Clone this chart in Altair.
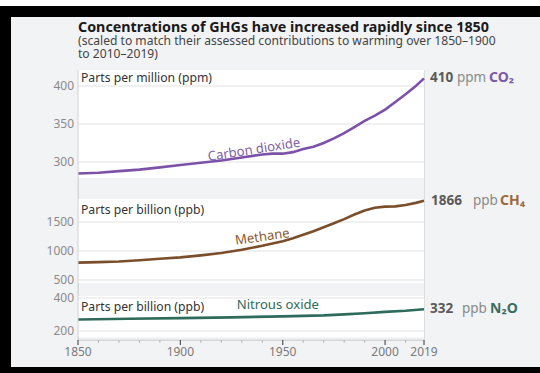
import altair as alt
import pandas as pd

# ---------------- data ----------------
co2_years = [1850, 1860, 1870, 1880, 1890, 1900, 1910, 1920, 1930, 1940, 1945, 1950,
             1955, 1960, 1965, 1970, 1975, 1980, 1985, 1990, 1995, 2000, 2005, 2010, 2015, 2019]
co2_ppm = [285, 286, 288, 290, 293, 296, 299, 302, 306, 310, 311, 311,
           313, 317, 320, 325, 331, 338, 346, 354, 361, 369, 379, 389, 400, 410]

ch4_years = [1850, 1860, 1870, 1880, 1890, 1900, 1910, 1920, 1930, 1940, 1945, 1950, 1955,
             1960, 1965, 1970, 1975, 1980, 1985, 1990, 1995, 2000, 2005, 2010, 2015, 2019]
ch4_ppb = [800, 808, 820, 840, 865, 890, 925, 965, 1020, 1090, 1130, 1170, 1220,
           1280, 1340, 1410, 1480, 1550, 1630, 1700, 1745, 1765, 1770, 1795, 1830, 1866]

n2o_years = [1850, 1875, 1900, 1925, 1950, 1960, 1970, 1980, 1990, 2000, 2010, 2019]
n2o_ppb = [270, 274, 278, 283, 289, 292, 295, 301, 308, 316, 323, 332]

x_tick_values = [1850, 1860, 1870, 1880, 1890, 1900, 1910, 1920, 1930, 1940, 1950,
                 1960, 1970, 1980, 1990, 2000, 2010, 2019]
x_label_years = [1850, 1900, 1950, 2000, 2019]

co2_ticks = [300, 350, 400]
ch4_ticks = [500, 1000, 1500]
n2o_ticks = [200, 400]

unit_labels = ["Parts per million (ppm)", "Parts per billion (ppb)", "Parts per billion (ppb)"]
series_names = ["Carbon dioxide", "Methane", "Nitrous oxide"]
end_numbers = ["410", "1866", "332"]
end_values = [410, 1866, 332]
end_units = ["ppm", "ppb", "ppb"]
gas_labels = ["CO₂", "CH₄", "N₂O"]

title_lines = ["Concentrations of GHGs have increased rapidly since 1850",
               "(scaled to match their assessed contributions to warming over 1850–1900",
               "to 2010–2019)"]

FONT = "Noto Sans"
BG = "#f2f3f5"

X0, X1 = x_tick_values[0], x_tick_values[-1]
xscale = alt.Scale(domain=[X0, X1], zero=False, nice=False)
xnone = alt.X("year:Q", scale=xscale, axis=None)


def panel(years, values, ticks, dom, rng, color, unit_lbl, unit_v, name, name_pos,
          name_angle, name_color, num, end_v, unit, gas, gas_color, dxs):
    ys = alt.Scale(domain=dom, range=rng, zero=False, nice=False)

    def Y(field):
        return alt.Y(field, scale=ys, axis=None)

    bg = alt.Chart(pd.DataFrame({"year": [X0], "year2": [X1], "v": [dom[0]], "v2": [dom[1]]})
                   ).mark_rect(color="white").encode(
        x=xnone, x2="year2", y=Y("v:Q"), y2="v2")
    tdf = pd.DataFrame({"v": ticks, "t": [str(t) for t in ticks]})
    grid = alt.Chart(tdf).mark_rule(color="#e2e2e2", strokeWidth=1).encode(y=Y("v:Q"))
    ylab = alt.Chart(tdf).mark_text(align="right", baseline="middle", fontSize=12, font=FONT,
                                    color="#8a8a8a").encode(
        x=alt.value(-4), y=Y("v:Q"), text="t:N")
    line = alt.Chart(pd.DataFrame({"year": years, "v": values})).mark_line(
        color=color, strokeWidth=2.6).encode(x=xnone, y=Y("v:Q"))
    ulab = alt.Chart(pd.DataFrame({"year": [X0], "v": [unit_v], "t": [unit_lbl]})).mark_text(
        align="left", baseline="middle", dx=3, fontSize=12.2, font=FONT, color="#333333"
    ).encode(x=xnone, y=Y("v:Q"), text="t:N")
    nlab = alt.Chart(pd.DataFrame({"year": [name_pos[0]], "v": [name_pos[1]], "t": [name]})).mark_text(
        align="center", baseline="middle", fontSize=13.1, font=FONT, color=name_color,
        angle=name_angle).encode(x=xnone, y=Y("v:Q"), text="t:N")
    endf = pd.DataFrame({"year": [X1], "v": [end_v], "n": [num], "u": [unit], "g": [gas]})
    e1 = alt.Chart(endf).mark_text(align="left", baseline="middle", dx=dxs[0], fontSize=13.5,
                                   fontWeight="bold", font=FONT, color="#5a5a5a").encode(
        x=xnone, y=Y("v:Q"), text="n:N")
    e2 = alt.Chart(endf).mark_text(align="left", baseline="middle", dx=dxs[1], fontSize=13.5,
                                   font=FONT, color="#8a8a8a").encode(
        x=xnone, y=Y("v:Q"), text="u:N")
    e3 = alt.Chart(endf).mark_text(align="left", baseline="middle", dx=dxs[2], fontSize=14,
                                   fontWeight="bold", font=FONT, color=gas_color).encode(
        x=xnone, y=Y("v:Q"), text="g:N")
    return alt.layer(bg, grid, ylab, line, ulab, nlab, e1, e2, e3)


p_co2 = panel(co2_years, co2_ppm, co2_ticks, [279, 421], [108, 0], "#7b52a8",
              unit_labels[0], 410.5, series_names[0], (1936, 316), 351, "#7f62a8",
              end_numbers[0], end_values[0], end_units[0], gas_labels[0], "#7c5aa3", (6, 33, 65))
p_ch4 = panel(ch4_years, ch4_ppb, ch4_ticks, [448, 1897], [213, 129], "#7a4e2a",
              unit_labels[1], 1707, series_names[1], (1940, 1241), 352, "#8a5a30",
              end_numbers[1], end_values[1], end_units[1], gas_labels[1], "#9a6a3a", (7, 49, 76))
p_n2o = panel(n2o_years, n2o_ppb, n2o_ticks, [164, 412], [267, 226], "#2f6b5b",
              unit_labels[2], 345, series_names[2], (1947.6, 357), 0, "#2f6b5b",
              end_numbers[2], end_values[2], end_units[2], gas_labels[2], "#3a6e5f", (6, 38, 66))

# ---- x axis drawn from the tick arrays ----
left_rule = alt.Chart(pd.DataFrame({"year": [X0]})).mark_rule(
    color="#d2d2d2", strokeWidth=1).encode(x=xnone)
x_domain = alt.Chart(pd.DataFrame({"year": [X0], "year2": [X1]})).mark_rule(
    color="#d2d2d2", strokeWidth=1).encode(x=xnone, x2="year2", y=alt.value(270))
minor_years = [y for y in x_tick_values if y not in x_label_years]
minor_ticks = alt.Chart(pd.DataFrame({"year": minor_years})).mark_rule(
    color="#b8b8b8", strokeWidth=1).encode(x=xnone, y=alt.value(270), y2=alt.value(273))
major_ticks = alt.Chart(pd.DataFrame({"year": x_label_years})).mark_rule(
    color="#555555", strokeWidth=1.2).encode(x=xnone, y=alt.value(270), y2=alt.value(275))
x_labels = alt.Chart(pd.DataFrame({"year": x_label_years,
                                   "t": [str(y) for y in x_label_years]})).mark_text(
    align="center", baseline="middle", fontSize=12, font=FONT, color="#7a7a7a").encode(
    x=xnone, y=alt.value(282), text="t:N")

tdf = pd.DataFrame({"t": title_lines})
title = alt.layer(
    alt.Chart(tdf.iloc[[0]]).mark_text(align="left", baseline="alphabetic", fontSize=14.3,
                                       fontWeight="bold", font=FONT, color="#1a1a1a").encode(
        x=alt.value(0), y=alt.value(-38), text="t:N"),
    alt.Chart(tdf.iloc[[1]]).mark_text(align="left", baseline="alphabetic", fontSize=12.1,
                                       font=FONT, color="#444444").encode(
        x=alt.value(0), y=alt.value(-25), text="t:N"),
    alt.Chart(tdf.iloc[[2]]).mark_text(align="left", baseline="alphabetic", fontSize=12.1,
                                       font=FONT, color="#444444").encode(
        x=alt.value(0), y=alt.value(-12), text="t:N"),
)

one = pd.DataFrame({"a": [0]})


def frame_rect(x, x2, y, y2, color):
    return alt.Chart(one).mark_rect(color=color).encode(
        x=alt.value(x), x2=alt.value(x2), y=alt.value(y), y2=alt.value(y2))


frame = alt.layer(
    frame_rect(-78, 462, -70, -64, "white"),
    frame_rect(-78, 462, -64, -53, "black"),
    frame_rect(-78, -67, -64, 303, "black"),
    frame_rect(-78, 462, 297, 303, "black"),
)

chart = alt.layer(
    p_co2, p_ch4, p_n2o, left_rule, x_domain, minor_ticks, major_ticks, x_labels, title, frame
).resolve_scale(
    y="independent"
).properties(
    width=346, height=270,
    autosize=alt.AutoSizeParams(type="none"),
    padding={"left": 78, "top": 70, "right": 116, "bottom": 33},
    background=BG,
).configure_view(stroke=None).configure(font=FONT)

chart.save("out.html", embed_options={"renderer": "svg", "actions": False})
